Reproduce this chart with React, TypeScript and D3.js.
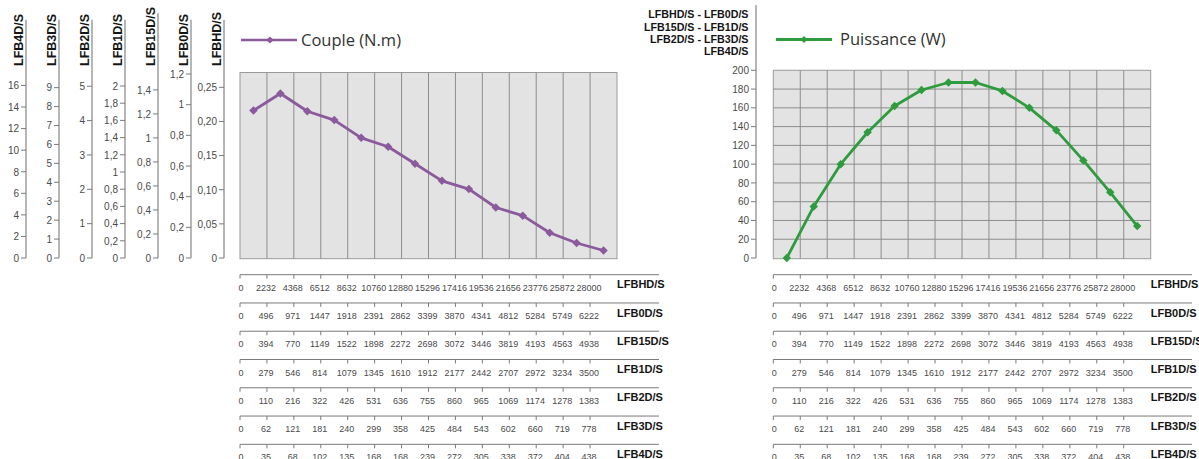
import React from 'react';
import * as d3 from 'd3';

// ---- data ----
const speedHD = [0, 2232, 4368, 6512, 8632, 10760, 12880, 15296, 17416, 19536, 21656, 23776, 25872, 28000];
const speed0D = [0, 496, 971, 1447, 1918, 2391, 2862, 3399, 3870, 4341, 4812, 5284, 5749, 6222];
const speed15D = [0, 394, 770, 1149, 1522, 1898, 2272, 2698, 3072, 3446, 3819, 4193, 4563, 4938];
const speed1D = [0, 279, 546, 814, 1079, 1345, 1610, 1912, 2177, 2442, 2707, 2972, 3234, 3500];
const speed2D = [0, 110, 216, 322, 426, 531, 636, 755, 860, 965, 1069, 1174, 1278, 1383];
const speed3D = [0, 62, 121, 181, 240, 299, 358, 425, 484, 543, 602, 660, 719, 778];
const speed4D = [0, 35, 68, 102, 135, 168, 168, 239, 272, 305, 338, 372, 404, 438];
const speedRows = [speedHD, speed0D, speed15D, speed1D, speed2D, speed3D, speed4D];
const speedRowNames = ['LFBHD/S', 'LFB0D/S', 'LFB15D/S', 'LFB1D/S', 'LFB2D/S', 'LFB3D/S', 'LFB4D/S'];

const couple = [0.216, 0.241, 0.215, 0.202, 0.176, 0.163, 0.138, 0.113, 0.101, 0.074, 0.062, 0.037, 0.022, 0.011];
const puissance = [0, 55, 100, 134, 162, 179, 187, 187, 178, 160, 136, 104, 70, 34];

const torqueAxisNames = ['LFB4D/S', 'LFB3D/S', 'LFB2D/S', 'LFB1D/S', 'LFB15D/S', 'LFB0D/S', 'LFBHD/S'];
const torqueAxisMax = [17.2, 9.8, 5.4, 2.157, 1.545, 1.21, 0.2717];
const torqueAxisTicks = [
  [0, 2, 4, 6, 8, 10, 12, 14, 16],
  [0, 1, 2, 3, 4, 5, 6, 7, 8, 9],
  [0, 1, 2, 3, 4, 5],
  [0, 0.2, 0.4, 0.6, 0.8, 1, 1.2, 1.4, 1.6, 1.8, 2],
  [0, 0.2, 0.4, 0.6, 0.8, 1, 1.2, 1.4],
  [0, 0.2, 0.4, 0.6, 0.8, 1, 1.2],
  [0, 0.05, 0.1, 0.15, 0.2, 0.25],
];
const powerMax = 200;
const powerTicks = [0, 20, 40, 60, 80, 100, 120, 140, 160, 180, 200];
const powerAxisTitle = ['LFBHD/S - LFB0D/S', 'LFB15D/S - LFB1D/S', 'LFB2D/S - LFB3D/S', 'LFB4D/S'];
const coupleLabel = 'Couple (N.m)';
const puissanceLabel = 'Puissance (W)';

// ---- layout ----
const W = 1199;
const H = 459;
const Y0 = 258;
const LEFT = { x0: 240, x1: 617, top: 72.5, lineEnd: 659 };
const RIGHT = { x0: 773.3, x1: 1150.7, top: 70.3, lineEnd: 1192 };
const PURPLE = '#8b5a9c';
const GREEN = '#2e9c3e';
const FILL = '#e2e3e2';
const GRID = '#8d8d8d';
const AXIS = '#7a7a7a';
const TICKTXT = '#4a4a4a';
const SANS = "'Liberation Sans', Arial, sans-serif";
const NARROW = "'Liberation Sans Narrow', 'Arial Narrow', 'Liberation Sans', sans-serif";
const LEGEND = "'Open Sans', 'Noto Sans', sans-serif";

const fmtComma = (v: number, fixed2: boolean) => {
  if (v === 0) return '0';
  const s = fixed2 ? v.toFixed(2) : String(+v.toFixed(2));
  return s.replace('.', ',');
};

const diamond = d3.symbol().type(d3.symbolSquare).size(36)();
const legendDiamond = d3.symbol().type(d3.symbolSquare).size(26)();

function Chart({ frame, values, yScale, color, hGrid }: any) {
  const cats = speedHD.map((_, i) => String(i));
  const x = d3.scaleBand().domain(cats).range([frame.x0, frame.x1]).padding(0);
  const bw = x.bandwidth();
  const line = d3
    .line<number>()
    .x((_, i) => (x(String(i)) as number) + bw / 2)
    .y((d) => yScale(d));
  const rowY = d3.scaleLinear().domain([0, 1]).range([274.7, 274.7 + 28.27]);
  return (
    <g>
      <rect x={frame.x0} y={frame.top} width={frame.x1 - frame.x0} height={Y0 + 0.7 - frame.top} fill={FILL} stroke="#9a9a9a" strokeWidth={1} />
      {cats.slice(1).map((c) => (
        <line key={'v' + c} x1={x(c)} x2={x(c)} y1={frame.top} y2={Y0 + 0.7} stroke={GRID} strokeWidth={1} />
      ))}
      {hGrid &&
        hGrid.map((t: number) => (
          <line key={'h' + t} x1={frame.x0} x2={frame.x1} y1={yScale(t)} y2={yScale(t)} stroke={GRID} strokeWidth={1} />
        ))}
      <path d={line(values) || ''} fill="none" stroke={color} strokeWidth={2.8} strokeLinejoin="round" />
      {values.map((v: number, i: number) => (
        <path key={'m' + i} d={diamond || ''} fill={color} transform={`translate(${(x(String(i)) as number) + bw / 2},${yScale(v)}) rotate(45)`} />
      ))}
      {speedRows.map((row, r) => {
        const yy = rowY(r);
        return (
          <g key={'row' + r}>
            <line x1={frame.x0} x2={frame.lineEnd} y1={yy} y2={yy} stroke={AXIS} strokeWidth={1} />
            {row.map((v, i) => {
              const tx = x(String(i)) as number;
              return (
                <g key={i}>
                  <line x1={tx} x2={tx} y1={yy} y2={yy + 4} stroke={AXIS} strokeWidth={1} />
                  <text x={i === 0 ? tx + 1 : tx - 1} y={yy + 16} textAnchor="middle" fontFamily={NARROW} fontSize={9} fill={TICKTXT}>
                    {v}
                  </text>
                </g>
              );
            })}
            <text x={frame.x1} y={yy + 13.6} fontFamily={SANS} fontWeight="bold" fontSize={11} fill="#151515">
              {speedRowNames[r]}
            </text>
          </g>
        );
      })}
    </g>
  );
}

export default function App() {
  const torqueScales = torqueAxisMax.map((m) => d3.scaleLinear().domain([0, m]).range([Y0, LEFT.top]));
  const coupleScale = torqueScales[6];
  const powerScale = d3.scaleLinear().domain([0, powerMax]).range([Y0, RIGHT.top]);
  const axisX = d3.scaleLinear().domain([0, 6]).range([26, 224]);

  return (
    <div style={{ position: 'absolute', left: 0, top: 0, width: W, height: H, background: '#fff' }}>
      <svg width={W} height={H} style={{ display: 'block' }}>
        {/* left stacked torque axes */}
        {torqueAxisNames.map((name, a) => {
          const ax = axisX(a);
          const s = torqueScales[a];
          const top = 66 - name.length * 6.6;
          return (
            <g key={name}>
              <line x1={ax} x2={ax} y1={top} y2={Y0} stroke={AXIS} strokeWidth={1.1} />
              <text transform={`translate(${ax - 3},66) rotate(-90)`} fontFamily={SANS} fontWeight="bold" fontSize={12.5} fill="#151515">
                {name}
              </text>
              {torqueAxisTicks[a].map((t) => (
                <g key={t}>
                  <line x1={ax - 5} x2={ax} y1={s(t)} y2={s(t)} stroke={AXIS} strokeWidth={1} />
                  <text x={ax - 7} y={s(t)} dy="0.38em" textAnchor="end" fontFamily={SANS} fontSize={10} fill={TICKTXT}>
                    {fmtComma(t, a === 6)}
                  </text>
                </g>
              ))}
            </g>
          );
        })}

        {/* legend couple */}
        <line x1={241} x2={297} y1={40} y2={40} stroke={PURPLE} strokeWidth={2.4} />
        <path d={legendDiamond || ''} fill={PURPLE} transform="translate(270,40) rotate(45)" />
        <text x={301} y={45.5} fontFamily={LEGEND} fontSize={16.5} fill="#333">
          {coupleLabel}
        </text>

        <Chart frame={LEFT} values={couple} yScale={coupleScale} color={PURPLE} hGrid={null} />

        {/* right power axis */}
        <line x1={756} x2={756} y1={5} y2={Y0} stroke={AXIS} strokeWidth={1.1} />
        {powerAxisTitle.map((t, i) => (
          <text key={t} x={748.5} y={18.3 + i * 12.3} textAnchor="end" fontFamily={SANS} fontWeight="bold" fontSize={10.7} fill="#151515">
            {t}
          </text>
        ))}
        {powerTicks.map((t) => (
          <g key={t}>
            <line x1={751} x2={756} y1={powerScale(t)} y2={powerScale(t)} stroke={AXIS} strokeWidth={1} />
            <text x={749} y={powerScale(t)} dy="0.36em" textAnchor="end" fontFamily={SANS} fontSize={10} fill={TICKTXT}>
              {t}
            </text>
          </g>
        ))}

        {/* legend puissance */}
        <line x1={776} x2={832} y1={39.5} y2={39.5} stroke={GREEN} strokeWidth={2.8} />
        <path d={legendDiamond || ''} fill={GREEN} transform="translate(804,39.5) rotate(45)" />
        <text x={840} y={45} fontFamily={LEGEND} fontSize={16.5} fill="#333">
          {puissanceLabel}
        </text>

        <Chart
          frame={RIGHT}
          values={puissance}
          yScale={powerScale}
          color={GREEN}
          hGrid={powerTicks.filter((t) => t > 0 && t < powerMax)}
        />
      </svg>
    </div>
  );
}
